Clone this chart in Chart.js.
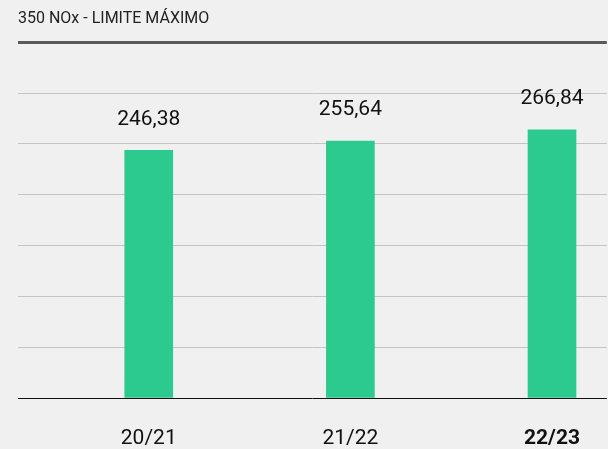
<!DOCTYPE html>
<html>
<head>
<meta charset="utf-8">
<script src="https://cdn.jsdelivr.net/npm/chart.js@4.4.0/dist/chart.umd.min.js"></script>
<style>
  html, body { margin: 0; padding: 0; background: #f0f0f0; overflow: hidden; }
  #wrap { width: 608px; height: 449px; }
</style>
</head>
<body>
<div id="wrap"><canvas id="myChart"></canvas></div>
<script>
// data
var categories = ['20/21', '21/22', '22/23'];
var values = [246.38, 255.64, 266.84];
var yMax = 354;          // top of the value axis (the dark limit line)
var titleText = '350 NOx - LIMITE MÁXIMO';

Chart.defaults.font.family = 'Roboto';
Chart.defaults.color = '#111';

function fmt(v) {
    return v.toFixed(2).replace('.', ',');
}

// draws the value above each bar
var valueLabels = {
    id: 'valueLabels',
    afterDatasetsDraw: function (chart) {
        var ctx = chart.ctx;
        var meta = chart.getDatasetMeta(0);
        ctx.save();
        ctx.font = '21px Roboto';
        ctx.fillStyle = '#111';
        ctx.textAlign = 'center';
        ctx.textBaseline = 'middle';
        meta.data.forEach(function (bar, i) {
            ctx.fillText(fmt(values[i]), bar.x, bar.y - 31);
        });
        ctx.restore();
    }
};

var ctx = document.getElementById('myChart').getContext('2d');
var myChart = new Chart(ctx, {
    type: 'bar',
    data: {
        datasets: [{
            data: categories.map(function (c, i) { return { x: i, y: values[i] }; }),
            backgroundColor: '#2dca8f',
            barThickness: 48,
            borderWidth: 0
        }]
    },
    options: {
        responsive: true,
        maintainAspectRatio: false,
        animation: false,
        layout: {
            padding: { left: 18, right: 0, top: 0, bottom: 0 }
        },
        plugins: {
            legend: { display: false },
            tooltip: { enabled: false },
            title: {
                display: true,
                text: titleText,
                align: 'start',
                color: '#222',
                font: { size: 16, weight: 'normal' },
                padding: { top: 9, bottom: 14 }
            }
        },
        scales: {
            x: {
                type: 'linear',
                offset: false,
                min: -0.6485,
                max: 2.272,
                grid: { display: false, drawTicks: false },
                border: { display: false },
                ticks: {
                    stepSize: 1,
                    includeBounds: false,
                    padding: 28,
                    maxRotation: 0,
                    autoSkip: false,
                    color: '#111',
                    font: function (c) {
                        var last = c.tick && c.tick.value === categories.length - 1;
                        return { size: 21, weight: last ? 'bold' : 'normal' };
                    },
                    callback: function (v) {
                        return Number.isInteger(v) && categories[v] ? categories[v] : '';
                    }
                },
                afterFit: function (scale) { scale.height = 51; }
            },
            y: {
                min: 0,
                max: yMax,
                border: { display: false },
                ticks: { display: false, count: 8 },
                grid: {
                    drawTicks: false,
                    color: function (c) {
                        if (c.tick.value === 0) return '#111';
                        if (c.tick.value === yMax) return '#5a5a5a';
                        return '#c4c4c4';
                    },
                    lineWidth: function (c) {
                        return c.tick.value === yMax ? 3 : 1;
                    }
                }
            }
        }
    },
    plugins: [valueLabels]
});
</script>
</body>
</html>
